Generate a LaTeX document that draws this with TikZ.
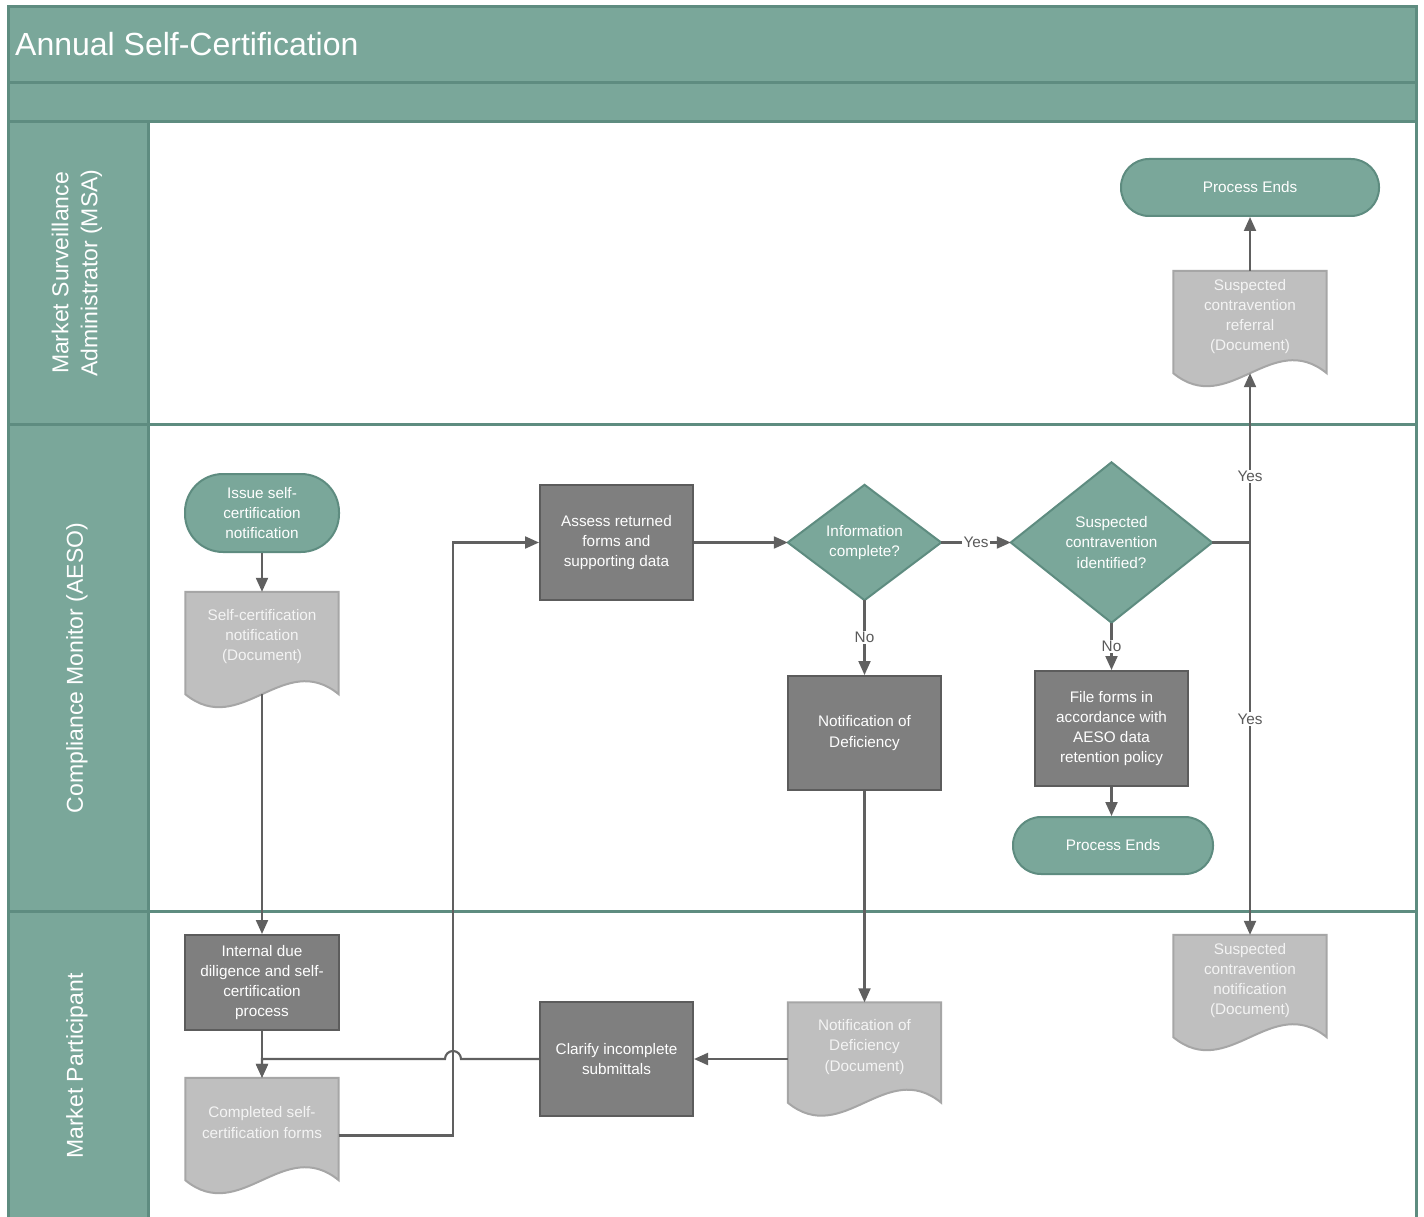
\documentclass[tikz,border=0pt]{standalone}
\usepackage{fontspec}
\setmainfont{Liberation Sans}
\usetikzlibrary{arrows.meta}
\definecolor{band}{HTML}{7AA79A}
\definecolor{bandline}{HTML}{5E8C80}
\definecolor{procfill}{HTML}{7F7F7F}
\definecolor{procline}{HTML}{5C5C5C}
\definecolor{docfill}{HTML}{BFBFBF}
\definecolor{docline}{HTML}{A6A6A6}
\definecolor{docText}{HTML}{F4F4F4}
\definecolor{connc}{HTML}{606060}
\definecolor{lblc}{HTML}{5A5A5A}
\newcommand\docdraw[1]{%
  \draw[docshape] (#1.north west) -- (#1.north east) -- ([yshift=13pt]#1.south east)
    .. controls ([xshift=-55pt,yshift=58pt]#1.south east) and ([xshift=55pt,yshift=-32pt]#1.south west)
    .. ([yshift=13pt]#1.south west) -- cycle;}
\begin{document}
\begin{tikzpicture}[x=1pt,y=-1pt,
  every node/.style={font=\fontsize{15.3}{20.3}\selectfont, align=center, inner sep=0pt},
  termbox/.style={draw=bandline, line width=2pt, fill=band, text=white, rounded corners=#1},
  procbox/.style={draw=procline, line width=2pt, fill=procfill, text=white},
  decbox/.style={draw=none},
  docbox/.style={draw=none, minimum width=153pt, minimum height=115pt},
  docshape/.style={draw=docline, line width=2pt, fill=docfill},
  doctxt/.style={text=docText},
  diam/.style={draw=bandline, line width=2pt, fill=band},
  conn/.style={draw=connc, line width=2.1pt, -{Triangle[length=14pt,width=12pt]}},
  plain/.style={draw=connc, line width=2.1pt},
  lbl/.style={fill=white, text=lblc, inner sep=1.5pt},
  lanetxt/.style={rotate=90, text=white, font=\fontsize{23}{29}\selectfont}
]
\useasboundingbox (0,0) rectangle (1424,1217);
% swimlane frame
\fill[band] (8,7) rectangle (1416,122);
\fill[band] (8,122) rectangle (148,1230);
\fill[white] (148,122) rectangle (1416,1230);
\draw[bandline, line width=3pt] (8,7) rectangle (1416,1230);
\draw[bandline, line width=3pt] (8,83) -- (1416,83);
\draw[bandline, line width=3pt] (8,122) -- (1416,122);
\draw[bandline, line width=3pt] (8,424) -- (1416,424);
\draw[bandline, line width=3pt] (8,911) -- (1416,911);
\draw[bandline, line width=3pt] (148,122) -- (148,1230);
\node[anchor=west, text=white, font=\fontsize{32}{37}\selectfont] (title) at (15,44) {Annual Self-Certification};
\node[lanetxt] (laneA) at (77,273) {Market Surveillance\\Administrator (MSA)};
\node[lanetxt] (laneB) at (77,668) {Compliance Monitor (AESO)};
\node[lanetxt] (laneC) at (77,1066) {Market Participant};

% AESO lane
\node[termbox=38pt, minimum width=154pt, minimum height=78pt] (iss) at (262,513) {Issue self-\\certification\\notification};
\node[docbox] (sn) at (262,649.5) {};
\docdraw{sn}
\node[doctxt] (snT) at ([yshift=13pt]sn.center) {Self-certification\\notification\\(Document)};

\node[procbox, minimum width=153pt, minimum height=115pt] (as) at (616.5,542.5) {Assess returned\\forms and\\supporting data};
\node[decbox, minimum width=153pt, minimum height=115pt] (ic) at (864.5,542.5) {};
\draw[diam] (ic.north) -- (ic.east) -- (ic.south) -- (ic.west) -- cycle;
\node[text=white] (icT) at (ic.center) {Information\\complete?};
\node[decbox, minimum width=201pt, minimum height=160pt] (sc) at (1111.5,542.5) {};
\draw[diam] (sc.north) -- (sc.east) -- (sc.south) -- (sc.west) -- cycle;
\node[text=white] (scT) at (sc.center) {Suspected\\contravention\\identified?};
\node[procbox, minimum width=153pt, minimum height=114pt] (nd) at (864.5,733) {Notification of\\Deficiency};
\node[procbox, minimum width=153pt, minimum height=115pt] (ff) at (1111.5,728.5) {File forms in\\accordance with\\AESO data\\retention policy};
\node[termbox=28pt, minimum width=200pt, minimum height=57pt] (pe2) at (1113,845.5) {Process Ends};

% MSA lane
\node[termbox=28pt, minimum width=258pt, minimum height=57pt] (pe1) at (1250,187.5) {Process Ends};
\node[docbox] (ref) at (1250,328.5) {};
\docdraw{ref}
\node[doctxt] (refT) at ([yshift=12pt]ref.center) {Suspected\\contravention\\referral\\(Document)};

% Market participant lane
\node[procbox, minimum width=154pt, minimum height=95pt] (idd) at (262,982.5) {Internal due\\diligence and self-\\certification\\process};
\node[docbox] (cf) at (262,1135.5) {};
\docdraw{cf}
\node[doctxt] (cfT) at ([yshift=13pt]cf.center) {Completed self-\\certification forms};
\node[procbox, minimum width=153pt, minimum height=114pt] (cl) at (616.5,1059) {Clarify incomplete\\submittals};
\node[docbox, minimum height=113pt] (ndd) at (864.5,1059) {};
\docdraw{ndd}
\node[doctxt] (nddT) at ([yshift=12pt]ndd.center) {Notification of\\Deficiency\\(Document)};
\node[docbox] (scn) at (1250,992.5) {};
\docdraw{scn}
\node[doctxt] (scnT) at ([yshift=12pt]scn.center) {Suspected\\contravention\\notification\\(Document)};

% connectors
\coordinate (hop) at (453,1059);
\coordinate (jn) at (sc.east -| ref.south);
\draw[conn] (iss.south) -- (sn.north);
\draw[conn] ([yshift=13pt]sn.south) -- (idd.north);
\draw[conn] (idd.south) -- (cf.north);
\draw[conn] (cf.east) -- (cf.east -| hop) |- (as.west);
\draw[conn] (cl.west) -- ([xshift=8pt]hop) arc[start angle=0, end angle=180, radius=8pt] -- (hop -| cf.north) -- (cf.north);
\draw[conn] (as.east) -- (ic.west);
\draw[conn] (ic.east) -- node[lbl] (yes1) {Yes} (sc.west);
\draw[conn] (ic.south) -- node[lbl] (no1) {No} (nd.north);
\draw[conn] (sc.south) -- node[lbl] (no2) {No} (ff.north);
\draw[conn] (ff.south) -- (ff.south |- pe2.north);
\draw[conn] (nd.south) -- (ndd.north);
\draw[conn] (ndd.west) -- (cl.east);
\draw[plain] (sc.east) -- (jn);
\draw[conn] (jn) -- node[lbl, pos=0.39] (yes2) {Yes} ([yshift=13pt]ref.south);
\draw[conn] (jn) -- node[lbl, pos=0.45] (yes3) {Yes} (scn.north);
\draw[conn] (ref.north) -- (pe1.south);
\end{tikzpicture}
\end{document}
